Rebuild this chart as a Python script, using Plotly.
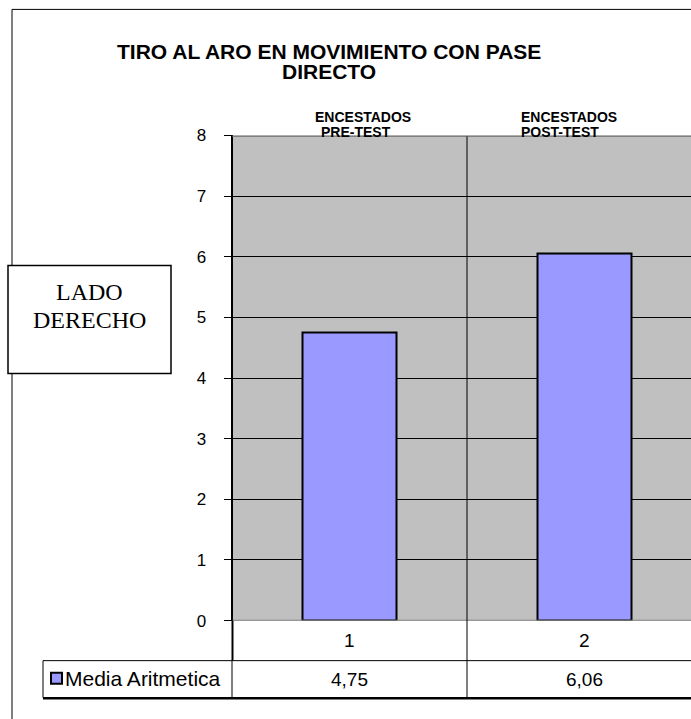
import plotly.graph_objects as go

W, H = 691, 719

# ---- data ----
categories = ["1", "2"]
series_name = "Media Aritmetica"
values = [4.75, 6.06]
y_ticks = [0, 1, 2, 3, 4, 5, 6, 7, 8]
title_lines = ["TIRO AL ARO EN MOVIMIENTO CON PASE", "DIRECTO"]
box_lines = ["LADO", "DERECHO"]
top_label_line1 = ["ENCESTADOS", "ENCESTADOS"]
top_label_line2 = ["PRE-TEST", "POST-TEST"]

# vertical calibration of the capture (observed: out = A * planned + B)
CAL_A, CAL_B = 0.9732, 8.6


def px_x(p):
    return p / W


def px_y(p):
    return 1 - ((p - CAL_B) / CAL_A) / H


AX_LEFT = 232.5
UNIT = 234.5
x_pos = list(range(1, len(categories) + 1))
x_range = [0.5, 0.5 + (W - AX_LEFT) / UNIT]

SANS = "Liberation Sans, Arial, sans-serif"
SERIF = "Liberation Serif, Times New Roman, serif"
BAR_COLOR = "#9999FF"

fig = go.Figure()
fig.add_trace(go.Bar(
    x=x_pos, y=values, width=0.4, name=series_name,
    marker=dict(color=BAR_COLOR, line=dict(color="black", width=2)),
    showlegend=False, hoverinfo="skip",
))

fig.update_layout(
    width=W, height=H,
    margin=dict(l=0, r=0, t=0, b=0, pad=0),
    paper_bgcolor="white", plot_bgcolor="#C0C0C0",
    showlegend=False, bargap=0,
    xaxis=dict(domain=[AX_LEFT / W, 1], range=x_range, showticklabels=False,
               showgrid=False, zeroline=False, ticks="", fixedrange=True),
    yaxis=dict(domain=[px_y(620), px_y(135)], range=[0, 8], tickvals=y_ticks,
               ticks="outside", ticklen=7, tickcolor="black", tickwidth=1,
               showline=True, linecolor="black", linewidth=2,
               showgrid=True, gridcolor="black", gridwidth=1, zeroline=False,
               tickfont=dict(family=SANS, size=17, color="black"),
               ticklabelstandoff=14, fixedrange=True),
)

shapes = []


def pline(x0, y0, x1, y1, color="black", width=1, layer="above"):
    shapes.append(dict(type="line", xref="paper", yref="paper",
                       x0=px_x(x0), y0=px_y(y0), x1=px_x(x1), y1=px_y(y1),
                       line=dict(color=color, width=width), layer=layer))


# outer frame
pline(12, 9, 12, H + 40)
pline(12, 9, W + 5, 9)
# plot area top / bottom borders
shapes.append(dict(type="line", xref="paper", yref="y", x0=AX_LEFT / W, x1=1, y0=8, y1=8,
                   line=dict(color="#808080", width=3), layer="above"))
shapes.append(dict(type="line", xref="paper", yref="y", x0=AX_LEFT / W, x1=1, y0=0, y1=0,
                   line=dict(color="#808080", width=2), layer="above"))
# category divider through plot and table
shapes.append(dict(type="line", xref="x", yref="paper", x0=1.5, x1=1.5,
                   y0=px_y(136), y1=px_y(697), line=dict(color="black", width=1),
                   layer="above"))
# axis extension into the table
pline(AX_LEFT, 620, AX_LEFT, 660, width=2)
pline(AX_LEFT - 0.5, 660, AX_LEFT - 0.5, 697, width=1)
# table lines
pline(43, 660, W + 5, 660, width=1)
pline(43, 697.5, W + 5, 697.5, width=2.5)
pline(43, 660, 43, 697, width=1)
# text box
shapes.append(dict(type="rect", xref="paper", yref="paper",
                   x0=px_x(8), x1=px_x(171), y0=px_y(265), y1=px_y(373),
                   fillcolor="white", line=dict(color="black", width=1.5), layer="above"))
# legend key swatch
shapes.append(dict(type="rect", xref="paper", yref="paper",
                   x0=px_x(51), x1=px_x(62), y0=px_y(672), y1=px_y(683),
                   fillcolor=BAR_COLOR, line=dict(color="black", width=2), layer="above"))
fig.update_layout(shapes=shapes)

ann = []


def ptext(text, x, y, size, family=SANS, bold=False, xanchor="center"):
    ann.append(dict(text=f"<b>{text}</b>" if bold else text, xref="paper", yref="paper",
                    x=px_x(x), y=px_y(y), xanchor=xanchor, yanchor="middle",
                    showarrow=False, font=dict(family=family, size=size, color="black")))


# title
ptext(title_lines[0], 329, 51, 21, bold=True)
ptext(title_lines[1], 329, 71, 21, bold=True)
# box
ptext(box_lines[0], 89, 291, 24, family=SERIF)
ptext(box_lines[1], 89, 319, 24, family=SERIF)
# labels above bars
for x1, x2, l1, l2 in zip([313, 519], [319, 519], top_label_line1, top_label_line2):
    ptext(l1, x1, 117, 14, bold=True, xanchor="left")
    ptext(l2, x2, 132, 14, bold=True, xanchor="left")
# data table
for xp, cat, v in zip(x_pos, categories, values):
    ann.append(dict(text=cat, xref="x", yref="paper", x=xp, y=px_y(640),
                    xanchor="center", yanchor="middle", showarrow=False,
                    font=dict(family=SANS, size=19, color="black")))
    ann.append(dict(text=f"{v:.2f}".replace(".", ","), xref="x", yref="paper", x=xp,
                    y=px_y(679), xanchor="center", yanchor="middle", showarrow=False,
                    font=dict(family=SANS, size=19, color="black")))
ptext(series_name, 63, 678, 21, xanchor="left")
fig.update_layout(annotations=ann)

post = (
    "document.documentElement.style.margin='0';"
    "document.documentElement.style.overflow='hidden';"
    "document.body.style.margin='0';"
    "document.body.style.overflow='hidden';"
    "var gd=document.getElementById('{plot_id}');"
    "gd.style.position='fixed';gd.style.left='0px';gd.style.top='0px';"
)
fig.write_html("out.html", config={"displayModeBar": False}, post_script=post)
